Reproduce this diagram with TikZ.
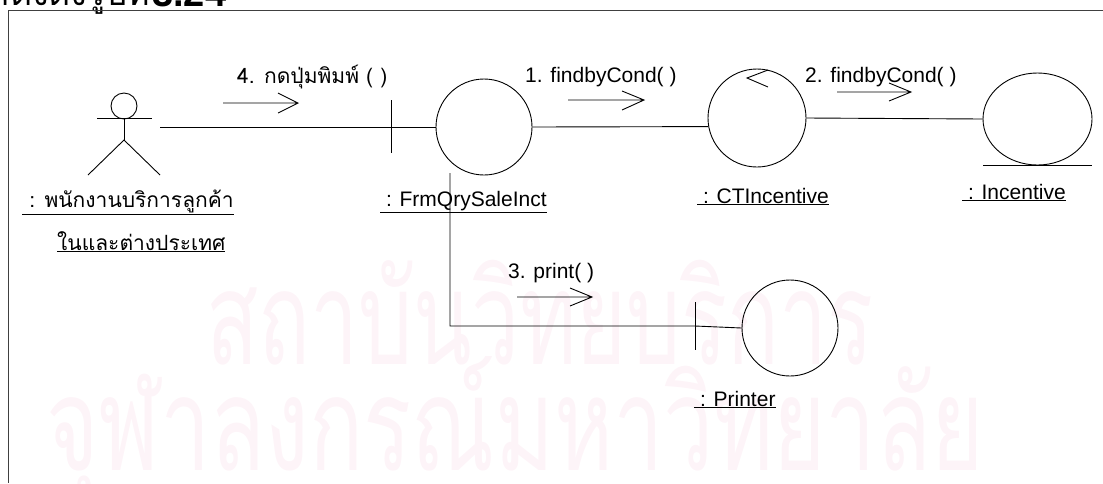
\documentclass[tikz,border=0pt]{standalone}
\usepackage{fontspec}
\setmainfont{Liberation Sans}
\newfontfamily\thai[Script=Thai]{Loma}
\usetikzlibrary{calc,shapes.geometric}
\definecolor{wm}{RGB}{253,244,248}
\tikzset{
  lbl/.style={inner sep=0pt, anchor=base west, font=\fontsize{21}{24}\selectfont},
  obj/.style={draw, circle, line width=0.9pt, inner sep=0pt, minimum size=96pt},
  ln/.style={line width=0.9pt},
  msg/.style={line width=0.9pt},
  wmtext/.style={inner sep=0pt, anchor=base, text=wm, font=\thai\fontsize{130}{130}\selectfont},
}
\begin{document}
\begin{tikzpicture}[x=1pt,y=-1pt]
\useasboundingbox (0,0) rectangle (1103,483);
% watermark
\node[wmtext, xscale=0.66] (wm1) at (540,364) {สถาบันวิทยบริการ};
\node[wmtext, xscale=0.69] (wm2) at (515,470) {จุฬาลงกรณ์มหาวิทยาลัย};
% cut caption
\node[inner sep=0pt, anchor=base east, font=\thai\fontsize{34}{36}\selectfont] (cap1) at (150,5) {แสดงดังรูปที่};
\node[inner sep=0pt, anchor=base west, font=\bfseries\fontsize{38}{40}\selectfont] (cap2) at (152,6) {3.24};
% frame
\draw[line width=1pt, black!75] (1103,10) -- (8,10) -- (8,483);
% actor
\node[draw, circle, line width=0.9pt, minimum size=26pt, inner sep=0pt] (head) at (124,106) {};
\coordinate (hip) at (124,140);
\draw[ln] (head.south) -- (hip);
\draw[ln] (97,118) -- (152,118);
\draw[ln] (88,175) -- (hip) -- (160,175);
\node[lbl, font=\thai\fontsize{21}{24}\selectfont] (actl1) at (22,207) {\underline{\ : พนักงานบริการลูกค้า}};
\node[lbl, font=\thai\fontsize{21}{24}\selectfont] (actl2) at (57,250) {\underline{ในและต่างประเทศ}};
\coordinate (actR) at (160,127);
% FrmQrySaleInct boundary
\node[obj] (frm) at (484,127) {};
\draw[ln] (391,100) -- (391,153);
\node[lbl] (frml) at (380,206) {\underline{\ : FrmQrySaleInct}};
% CTIncentive control
\node[obj, minimum size=98pt] (ct) at (757,118) {};
\draw[ln] (768,70) -- (747,78) -- (768,87);
\node[lbl] (ctl) at (697,203) {\underline{\ : CTIncentive}};
% Incentive entity
\node[draw, ellipse, line width=0.9pt, minimum width=109pt, minimum height=92pt, inner sep=0pt] (inc) at (1037.5,119) {};
\draw[ln] (983,165) -- (1092,165);
\node[lbl] (incl) at (962,199) {\underline{\ : Incentive}};
% Printer boundary
\node[obj] (prn) at (790,328) {};
\draw[ln] (695,302) -- (695,350);
\node[lbl] (prnl) at (694,406) {\underline{\ : Printer}};
% links
\draw[ln] (actR) -- (frm.west);
\draw[ln] (frm.east) -- (ct.190);
\draw[ln] (ct.east) -- (inc.west);
\coordinate (frmdn) at (450,173);
\coordinate (prntick) at (695,326);
\draw[ln] (frmdn) |- (prntick) -- (prn.west);
% messages
\node[lbl, font=\thai\fontsize{21}{24}\selectfont] (m4) at (237,83) {4. กดปุ่มพิมพ์ ( )};
\draw[msg] (223,103) -- (298,103) (278,93) -- (298,103) -- (278,113);
\node[lbl] (m1) at (525,82) {1. findbyCond( )};
\draw[msg] (568,100) -- (644,100) (622,91) -- (644,100) -- (622,110);
\node[lbl] (m2) at (805,82) {2. findbyCond( )};
\draw[msg] (837,92) -- (911,92) (889,83) -- (911,92) -- (889,101);
\node[lbl] (m3) at (508,278) {3. print( )};
\draw[msg] (517,297) -- (592,297) (570,288) -- (592,297) -- (570,306);
\end{tikzpicture}
\end{document}
